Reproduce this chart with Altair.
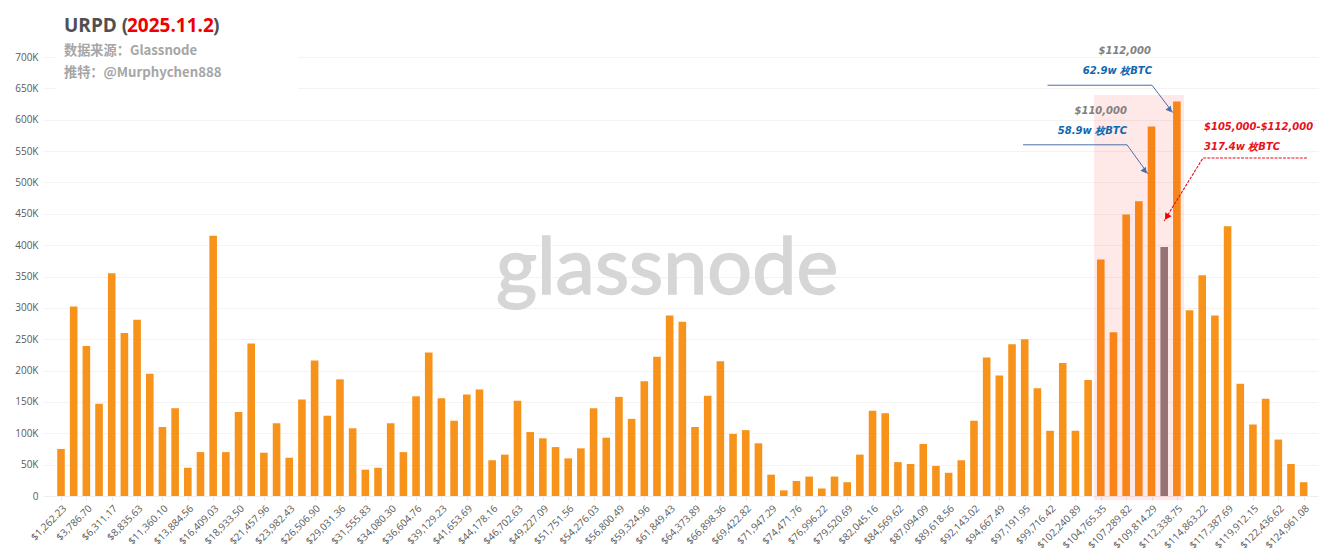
import pandas as pd
import altair as alt

# Supply per price bucket, in thousands of BTC
supply_k = [75, 302, 239, 147, 355, 260, 281, 195, 110, 140,
            45, 70, 415, 70, 134, 243, 69, 116, 61, 154,
            216, 128, 186, 108, 42, 45, 116, 70, 159, 229,
            156, 120, 162, 170, 57, 66, 152, 102, 92, 78,
            60, 76, 140, 93, 158, 123, 183, 222, 288, 278,
            110, 160, 215, 99, 105, 84, 34, 9, 24, 31,
            12, 31, 22, 66, 136, 132, 54, 51, 83, 48,
            37, 57, 120, 221, 192, 242, 250, 172, 104, 212,
            104, 185, 377, 261, 449, 470, 589, 397, 629, 296,
            352, 288, 430, 179, 114, 155, 90, 51, 22]

tick_labels = ['$1,262.23', '$3,786.70', '$6,311.17', '$8,835.63', '$11,360.10',
               '$13,884.56', '$16,409.03', '$18,933.50', '$21,457.96', '$23,982.43',
               '$26,506.90', '$29,031.36', '$31,555.83', '$34,080.30', '$36,604.76',
               '$39,129.23', '$41,653.69', '$44,178.16', '$46,702.63', '$49,227.09',
               '$51,751.56', '$54,276.03', '$56,800.49', '$59,324.96', '$61,849.43',
               '$64,373.89', '$66,898.36', '$69,422.82', '$71,947.29', '$74,471.76',
               '$76,996.22', '$79,520.69', '$82,045.16', '$84,569.62', '$87,094.09',
               '$89,618.56', '$92,143.02', '$94,667.49', '$97,191.95', '$99,716.42',
               '$102,240.89', '$104,765.35', '$107,289.82', '$109,814.29', '$112,338.75',
               '$114,863.22', '$117,387.69', '$119,912.15', '$122,436.62', '$124,961.08']

GRAY_BAR = 88
LATIN = 'Open Sans'
CJK = 'Noto Sans CJK SC'
NOTE = 'DejaVu Sans'

bars = pd.DataFrame({'bucket': range(1, len(supply_k) + 1), 'supply': [v * 1000 for v in supply_k]})

x_scale = alt.Scale(domain=[-0.42, 100.13], nice=False, zero=False, padding=0)
y_scale = alt.Scale(domain=[0, 700000], nice=False)
label_list = '[' + ','.join("'" + t + "'" for t in tick_labels) + ']'

x_axis = alt.Axis(
    values=list(range(1, 100, 2)), labelExpr=label_list + '[(datum.value-1)/2]',
    labelAngle=-45, labelAlign='right', labelBaseline='top', labelFontSize=10,
    labelFont=LATIN, labelColor='#595959', labelOverlap=False, labelPadding=3,
    labelBound=False, labelFlush=False, grid=False, tickColor='#f6e4d6', tickSize=4,
    domainColor='#eeeeee', title=None)
y_axis = alt.Axis(
    values=list(range(0, 700001, 50000)),
    labelExpr="datum.value == 0 ? '0' : datum.value / 1000 + 'K'",
    labelFontSize=10, labelFont=LATIN, labelColor='#595959', labelPadding=5,
    gridColor='#f3f3f3', domain=False, ticks=False, title=None)

x_plain = alt.X('x:Q', scale=x_scale, axis=x_axis)
y_plain = alt.Y('y:Q', scale=y_scale, axis=y_axis)

bar_layer = alt.Chart(bars).mark_bar(size=7.6).encode(
    x=alt.X('bucket:Q', scale=x_scale, axis=x_axis),
    y=alt.Y('supply:Q', scale=y_scale, axis=y_axis),
    color=alt.condition(alt.datum.bucket == GRAY_BAR, alt.value('#8c7f7f'), alt.value('#f7931a'))
)

# Pink band over the $105,000-$112,000 buckets
band = alt.Chart(pd.DataFrame({'x': [82.47], 'x2': [89.56], 'y': [-6400], 'y2': [639400]})).mark_rect(
    color='#ff0000', opacity=0.09
).encode(x=x_plain, x2='x2:Q', y=y_plain, y2='y2:Q')

# White patch behind the heading hides the top gridlines
patch = alt.Chart(pd.DataFrame({'x': [0.6], 'x2': [19.7], 'y': [645000], 'y2': [720000]})).mark_rect(
    color='white', clip=False
).encode(x=x_plain, x2='x2:Q', y=y_plain, y2='y2:Q')

leaders = pd.DataFrame({
    'line': ['a', 'a', 'a', 'b', 'b', 'b'],
    'step': [0, 1, 2, 0, 1, 2],
    'x': [78.8, 87.04, 88.7, 76.87, 85.07, 86.73],
    'y': [655000, 655000, 611000, 560000, 560000, 513500],
})
blue_lines = alt.Chart(leaders).mark_line(color='#4a6fa8', strokeWidth=1).encode(
    x=x_plain, y=y_plain, detail='line:N', order='step:Q')
blue_heads = alt.Chart(pd.DataFrame({'x': [88.45, 86.48], 'y': [615500, 518000]})).mark_point(
    shape='triangle-up', filled=True, color='#4a6fa8', size=45, angle=143, opacity=1
).encode(x=x_plain, y=y_plain)

red_leader = pd.DataFrame({'step': [0, 1, 2], 'x': [99.26, 91.06, 87.99], 'y': [539000, 539000, 438500]})
red_line = alt.Chart(red_leader).mark_line(color='#e8101a', strokeWidth=1.1, strokeDash=[3, 1.2]).encode(
    x=x_plain, y=y_plain, order='step:Q')
red_head = alt.Chart(pd.DataFrame({'x': [88.2], 'y': [445000]})).mark_point(
    shape='triangle-up', filled=True, color='#f00000', size=55, angle=212, opacity=1
).encode(x=x_plain, y=y_plain)


def note(label, px, py, color, size, weight='bold', style='normal', align='left', font=LATIN, stroke=0):
    # px, py are page pixels; the plot area starts at (43, 57)
    return alt.Chart(pd.DataFrame({'t': [label]})).mark_text(
        color=color, fontSize=size, fontWeight=weight, fontStyle=style, align=align,
        baseline='middle', font=font, clip=False, stroke=color, strokeWidth=stroke
    ).encode(x=alt.value(px - 43), y=alt.value(py - 57), text='t:N')


notes = [
    note('glassnode', 667, 270, '#d6d6d6', 79, weight='normal', align='center', font='Lato', stroke=1.6),
    note('URPD (', 64, 26, '#505050', 19),
    note('2025.11.2', 127, 26, '#f00000', 19),
    note(')', 213, 26, '#505050', 19),
    note('数据来源：Glassnode', 64, 51, '#a6a6a6', 13.2, font=CJK),
    note('推特：@Murphychen888', 64, 73, '#a6a6a6', 13.2, font=CJK),
    note('$112,000', 1151, 51, '#808080', 10, style='italic', align='right', font=NOTE),
    note('62.9w 枚BTC', 1152, 71, '#0f66b0', 10, style='italic', align='right', font=NOTE),
    note('$110,000', 1127, 111, '#808080', 10, style='italic', align='right', font=NOTE),
    note('58.9w 枚BTC', 1127, 131, '#0f66b0', 10, style='italic', align='right', font=NOTE),
    note('$105,000-$112,000', 1204, 127, '#e8101a', 10, style='italic', font=NOTE),
    note('317.4w 枚BTC', 1204, 147, '#e8101a', 10, style='italic', font=NOTE),
]

chart = alt.layer(
    bar_layer, band, patch, blue_lines, blue_heads, red_line, red_head, *notes
).properties(
    width=1275,
    height=439,
    autosize=alt.AutoSizeParams(type='none'),
    padding={'left': 35, 'top': 49, 'right': 10, 'bottom': 58},
    background='white'
).configure_view(stroke=None)

chart.save("out.html", embed_options={"renderer": "svg", "actions": False})
